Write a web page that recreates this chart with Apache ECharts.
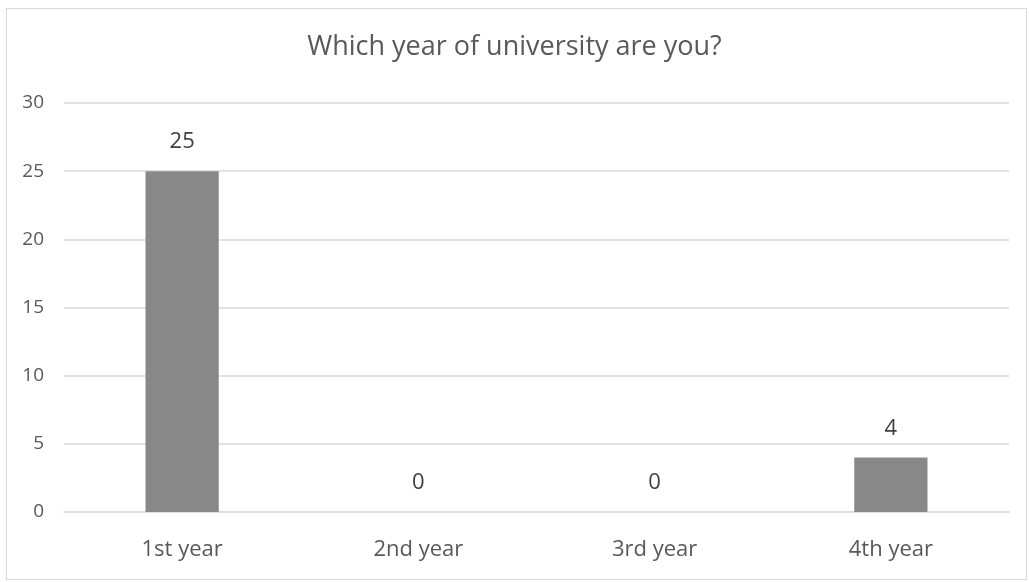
<!DOCTYPE html>
<html>
<head>
<meta charset="utf-8">
<script src="https://cdn.jsdelivr.net/npm/echarts@6/dist/echarts.min.js"></script>
<style>
html,body{margin:0;padding:0;background:#fff;}
#frame{position:absolute;left:6px;top:8px;width:1021px;height:572px;border:1px solid #d9d9d9;box-sizing:border-box;}
#chart{position:absolute;left:0;top:0;width:1029px;height:582px;}
</style>
</head>
<body>
<div id="frame"></div>
<div id="chart"></div>
<script>
const titleText = 'Which year of university are you?';
const categories = ['1st year', '2nd year', '3rd year', '4th year'];
const counts = [25, 0, 0, 4];
const yTicks = [0, 5, 10, 15, 20, 25, 30];

const FONT = '"Open Sans", "Noto Sans", sans-serif';
const chart = echarts.init(document.getElementById('chart'));
chart.setOption({
  animation: false,
  title: {
    text: titleText,
    left: 'center',
    top: 34,
    padding: 0,
    textStyle: {fontFamily: FONT, fontSize: 27, fontWeight: 'normal', color: '#595959'}
  },
  grid: {left: 64, right: 20, top: 103, bottom: 70},
  xAxis: {
    type: 'category',
    data: categories,
    axisLine: {show: true, lineStyle: {color: '#d9d9d9', width: 1.5}},
    axisTick: {show: false},
    axisLabel: {fontFamily: FONT, fontSize: 22, color: '#595959', margin: 27}
  },
  yAxis: {
    type: 'value',
    min: yTicks[0],
    max: yTicks[yTicks.length - 1],
    interval: 5,
    axisLine: {show: false},
    axisTick: {show: false},
    splitLine: {lineStyle: {color: '#d9d9d9', width: 1.5}},
    axisLabel: {fontFamily: FONT, fontSize: 19, color: '#595959', margin: 20}
  },
  series: [{
    type: 'bar',
    data: counts,
    barWidth: '31%',
    itemStyle: {color: '#888888'},
    label: {
      show: true,
      position: 'top',
      distance: 18,
      fontFamily: FONT,
      fontSize: 22,
      color: '#404040'
    }
  }]
});
</script>
</body>
</html>
